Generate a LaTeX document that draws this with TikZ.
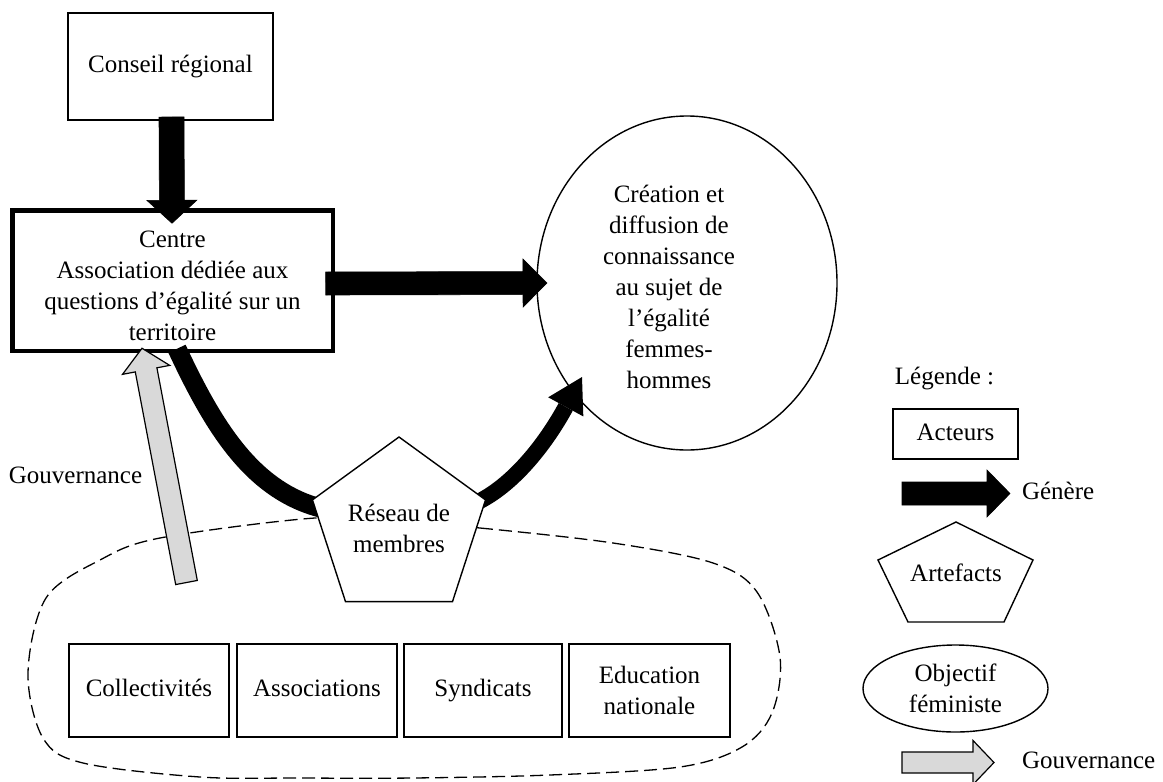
\documentclass[tikz,border=0pt]{standalone}
\usepackage{fontspec}
\setmainfont{Liberation Serif}
\usetikzlibrary{calc,shapes.geometric,arrows.meta}

% #1 style, #2 start, #3 tip, #4 shaft half width, #5 head half width, #6 head length
\newcommand\blockarrow[6]{%
  \coordinate (ba-h) at ($#3!#6!#2$);
  \draw[#1] ($#2!#4!90:#3$) -- ($(ba-h)!#4!90:#3$) -- ($(ba-h)!#5!90:#3$) -- #3
    -- ($(ba-h)!#5!-90:#3$) -- ($(ba-h)!#4!-90:#3$) -- ($#2!#4!-90:#3$) -- cycle;
}

\begin{document}
\begin{tikzpicture}[x=1pt,y=-1pt,
  every node/.style={font=\fontsize{25}{31}\selectfont, outer sep=0pt, inner sep=2pt},
  box/.style={draw, line width=1.4pt, align=center},
  oneline/.style={text height=17pt, text depth=5pt},
  blackarrow/.style={fill=black, draw=black, line width=0.6pt},
  greyarrow/.style={fill=black!15, draw=black, line width=1.2pt},
  blob/.style={line width=1.3pt, dash pattern=on 13pt off 6pt},
  band/.style={line width=#1, draw=black}]

\useasboundingbox (0,0) rectangle (1163,782);

% main nodes
\node[box, oneline, minimum width=205pt, minimum height=107pt] (conseil) at (170.5,66.5) {Conseil régional};
\node[draw, line width=4.5pt, minimum width=320.5pt, minimum height=140.5pt, inner sep=0pt] (centre) at (172.5,280.5) {};
\node[align=center] (centretxt) at (172.5,286) {Centre\\Association dédiée aux\\questions d’égalité sur un\\territoire};
\node[draw, ellipse, line width=1.4pt, minimum width=300pt, minimum height=334pt, inner sep=0pt] (ell) at (687,283) {};
\node[align=center] (elltxt) at (669,287) {Création et\\diffusion de\\connaissance\\au sujet de\\l’égalité\\femmes-\\hommes};
\coordinate (resc) at (399,528);

% dashed member area
\draw[blob] plot[smooth cycle, tension=0.55] coordinates {(400,522) (480,528) (613,543) (713,563) (757,592) (780,657) (772,713) (742,747) (680,767) (550,775) (413,778) (300,778) (200,777) (83,763) (43,738) (28,673) (46,598) (100,560) (160,538) (315,518)};

% member boxes
\node[box, oneline, minimum width=160pt, minimum height=93pt] (coll) at (149,690.5) {Collectivités};
\node[box, oneline, minimum width=160pt, minimum height=93pt] (assoc) at (317,690.5) {Associations};
\node[box, oneline, minimum width=158pt, minimum height=93pt] (synd) at (483,690.5) {Syndicats};
\node[box, minimum width=161pt, minimum height=93pt] (educ) at (649.5,690.5) {Education\\nationale};

% Conseil -> Centre
\coordinate (d1) at ($(conseil.south)+(1,-3)$);
\coordinate (d2) at ($(centre.north)+(-0.5,13)$);
\blockarrow{blackarrow}{(d1)}{(d2)}{12.5pt}{25pt}{23pt}

% Centre -> objective
\coordinate (h1) at ($(centre.east)+(-7,3)$);
\coordinate (h2) at ($(ell.west)+(10,0)$);
\blockarrow{blackarrow}{(h1)}{(h2)}{11.5pt}{24pt}{24pt}

% governance arrow
\coordinate (gt) at ($(centre.south)+(-30.5,-2.5)$);
\coordinate (gb) at (186.5,582.5);
\blockarrow{greyarrow}{(gb)}{(gt)}{11pt}{24pt}{22pt}
\node[oneline] (gouvlbl) at (75.5,477) {Gouvernance};

% curved arrows via network
\coordinate (c1a) at ($(centre.south)+(4.5,-2)$);
\coordinate (c1b) at ($(resc)+(-70,-18)$);
\draw[band=19pt] (c1a) .. controls (215,430) and (255,495) .. (c1b);
\coordinate (c2a) at ($(resc)+(70,-22)$);
\coordinate (c2b) at ($(ell.center)+(-105,94)$);
\draw[band=16pt, -{Triangle[width=40pt,length=34pt,line width=0pt]}] (c2a) .. controls (510,490) and (545,445) .. (c2b);

\node[draw, regular polygon, regular polygon sides=5, minimum size=182pt, inner sep=0pt, line width=1.4pt, fill=white, align=center] (res) at (resc) {Réseau de\\membres};

% legend
\node[oneline] (leg) at (944.5,378) {Légende :};
\node[box, oneline, minimum width=125pt, minimum height=50pt] (acteurs) at (955.5,434) {Acteurs};
\coordinate (lg1) at (902,493.5);
\coordinate (lg2) at (1010,493.5);
\blockarrow{blackarrow}{(lg1)}{(lg2)}{11.5pt}{23.5pt}{23pt}
\node[anchor=west, inner sep=0pt, oneline] (genere) at (1022,493) {Génère};
\draw[line width=1.4pt] (956,522) -- (1033,560) -- (1004,622) -- (908,622) -- (878,560) -- cycle;
\node[oneline] (artefacts) at (956,575) {Artefacts};
\node[draw, ellipse, line width=1.4pt, minimum width=185pt, minimum height=87pt, inner sep=0pt, align=center] (objf) at (955.5,688.5) {Objectif\\féministe};
\coordinate (lv1) at (902,762.5);
\coordinate (lv2) at (994,762.5);
\blockarrow{greyarrow}{(lv1)}{(lv2)}{10.5pt}{22pt}{21pt}
\node[anchor=west, inner sep=0pt, oneline] (gouvleg) at (1022,762) {Gouvernance};
\end{tikzpicture}
\end{document}
